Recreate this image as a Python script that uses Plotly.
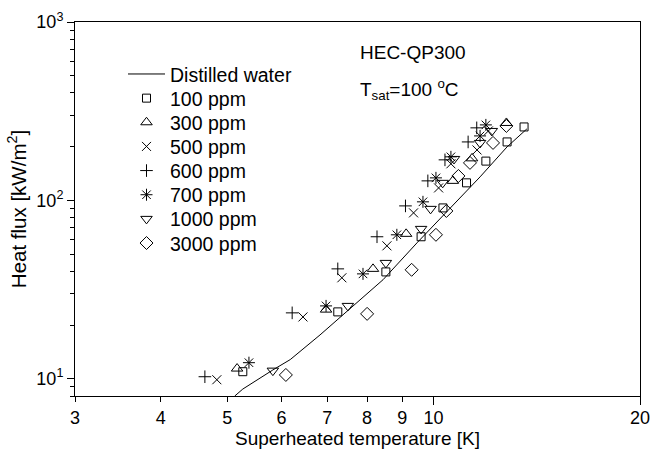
import math
import plotly.graph_objects as go

# ---- data ----
water_T = [5.13, 5.27, 5.83, 6.18, 6.83, 7.30, 8.44, 9.46, 10.46, 11.69, 12.80, 13.68]
water_q = [8.0, 8.75, 11.2, 12.8, 17.6, 22.0, 35.9, 57.8, 86.2, 135.4, 199.5, 251.6]

ppm100_T = [5.27, 7.25, 8.52, 9.59, 10.32, 11.17, 11.92, 12.80, 13.55]
ppm100_q = [10.95, 23.7, 39.7, 62.5, 90.7, 125.4, 166.0, 212.6, 258.0]

ppm300_T = [5.17, 6.97, 8.16, 9.12, 10.67, 11.38, 12.77]
ppm300_q = [11.4, 24.4, 41.3, 64.9, 128.6, 172.0, 271.6]

ppm500_T = [4.83, 6.45, 7.35, 8.55, 9.35, 10.17, 10.60, 11.57, 12.02]
ppm500_q = [9.87, 22.2, 36.8, 55.6, 85.1, 117.4, 160.3, 191.7, 245.0]

ppm600_T = [4.64, 6.22, 7.25, 8.27, 9.10, 9.81, 10.39, 11.23, 11.56]
ppm600_q = [10.26, 23.4, 41.3, 62.5, 93.1, 128.6, 168.7, 212.6, 255.0]

ppm700_T = [5.38, 6.97, 7.89, 8.84, 9.65, 10.08, 10.60, 11.69, 11.92]
ppm700_q = [12.3, 25.6, 38.7, 64.1, 98.1, 133.7, 175.4, 229.8, 264.9]

ppm1000_T = [5.83, 7.50, 8.52, 9.59, 9.90, 10.31, 10.71, 11.69, 12.16]
ppm1000_q = [11.1, 25.6, 44.6, 69.2, 89.6, 125.4, 170.7, 209.9, 245.0]

ppm3000_T = [6.09, 8.00, 9.29, 10.08, 10.44, 10.87, 11.30, 12.21, 12.77]
ppm3000_q = [10.5, 23.1, 40.8, 64.1, 87.2, 137.0, 162.2, 209.9, 261.4]

x_ticks = [3, 4, 5, 6, 7, 8, 9, 10, 20]
x_major_long = [10, 20]
y_ticks = [10, 100, 1000]
y_ticktext = ["10<sup>1</sup>", "10<sup>2</sup>", "10<sup>3</sup>"]
y_minor = [8, 9, 20, 30, 40, 50, 60, 70, 80, 90, 200, 300, 400, 500, 600, 700, 800, 900]

series = [
    ("100 ppm", ppm100_T, ppm100_q, "square-open", 8),
    ("300 ppm", ppm300_T, ppm300_q, "triangle-up-open", 10),
    ("500 ppm", ppm500_T, ppm500_q, "x-thin-open", 9),
    ("600 ppm", ppm600_T, ppm600_q, "cross-thin-open", 9),
    ("700 ppm", ppm700_T, ppm700_q, "asterisk-open", 10),
    ("1000 ppm", ppm1000_T, ppm1000_q, "triangle-down-open", 10),
    ("3000 ppm", ppm3000_T, ppm3000_q, "diamond-open", 10),
]

FONT = "Liberation Sans, Arial, sans-serif"

# plot area in pixels (for placing legend rows)
PLOT_L, PLOT_R, PLOT_T, PLOT_B = 75, 640, 22, 396
LEG_X_PX = 123
ROW0_PX, ROW_STEP = 74.3, 24.15

def px_to_paper_y(py):
    return (PLOT_B - py) / (PLOT_B - PLOT_T)

legend_names = ["legend"] + ["legend%d" % i for i in range(2, 9)]

fig = go.Figure()
fig.add_trace(go.Scatter(x=water_T, y=water_q, mode="lines", name="Distilled water",
                         line=dict(color="black", width=1), legend=legend_names[0]))
for i, (name, xs, ys, sym, sz) in enumerate(series):
    fig.add_trace(go.Scatter(x=xs, y=ys, mode="markers", name=name,
                             legend=legend_names[i + 1],
                             marker=dict(symbol=sym, size=sz, color="black",
                                         line=dict(color="black", width=1))))

# invisible trace on overlay axis for the longer major ticks
fig.add_trace(go.Scatter(x=[10], y=[10], xaxis="x2", mode="markers",
                         marker=dict(opacity=0), showlegend=False, hoverinfo="skip"))

legend_layout = {}
for i, ln in enumerate(legend_names):
    legend_layout[ln] = dict(
        x=(LEG_X_PX - PLOT_L) / (PLOT_R - PLOT_L),
        y=px_to_paper_y(ROW0_PX + ROW_STEP * i),
        xanchor="left", yanchor="middle",
        bgcolor="rgba(0,0,0,0)", borderwidth=0, itemwidth=37,
        font=dict(size=19.5, family=FONT, color="black"))

fig.update_layout(
    width=652, height=455,
    margin=dict(l=PLOT_L, r=652 - PLOT_R, t=PLOT_T, b=455 - PLOT_B),
    paper_bgcolor="white", plot_bgcolor="white",
    font=dict(family=FONT, size=18, color="black"),
    showlegend=True,
    xaxis=dict(type="log", range=[math.log10(3), math.log10(20)],
               tickvals=x_ticks, ticktext=[str(v) for v in x_ticks],
               ticks="outside", ticklen=5, tickwidth=1, tickcolor="black",
               tickfont=dict(size=18),
               showline=True, linecolor="black", linewidth=1, mirror=True,
               showgrid=False, zeroline=False, automargin=False,
               title=dict(text="Superheated temperature [K]", standoff=4,
                          font=dict(size=19))),
    xaxis2=dict(type="log", range=[math.log10(3), math.log10(20)], overlaying="x",
                anchor="y", side="bottom", tickvals=x_major_long, showticklabels=False,
                ticks="outside", ticklen=8, tickwidth=1, tickcolor="black",
                showline=False, showgrid=False, zeroline=False, automargin=False),
    yaxis=dict(type="log", range=[math.log10(8), 3],
               tickvals=y_ticks, ticktext=y_ticktext,
               ticks="outside", ticklen=7, tickwidth=1, tickcolor="black",
               tickfont=dict(size=18),
               minor=dict(tickvals=y_minor, ticks="outside", ticklen=4,
                          tickwidth=1, tickcolor="black", showgrid=False),
               showline=True, linecolor="black", linewidth=1, mirror=True,
               showgrid=False, zeroline=False, automargin=False,
               title=dict(text="Heat flux [kW/m<sup>2</sup>]", standoff=4,
                          font=dict(size=20.5))),
    annotations=[
        dict(text="HEC-QP300", xref="paper", yref="paper", x=(358 - PLOT_L) / 565,
             y=px_to_paper_y(52), xanchor="left", yanchor="middle", showarrow=False,
             font=dict(size=19)),
        dict(text="T<sub>sat</sub>=100 <sup>o</sup>C", xref="paper", yref="paper",
             x=(358 - PLOT_L) / 565, y=px_to_paper_y(89), xanchor="left",
             yanchor="middle", showarrow=False, font=dict(size=19)),
    ],
    **legend_layout,
)

fig.write_html("out.html")
